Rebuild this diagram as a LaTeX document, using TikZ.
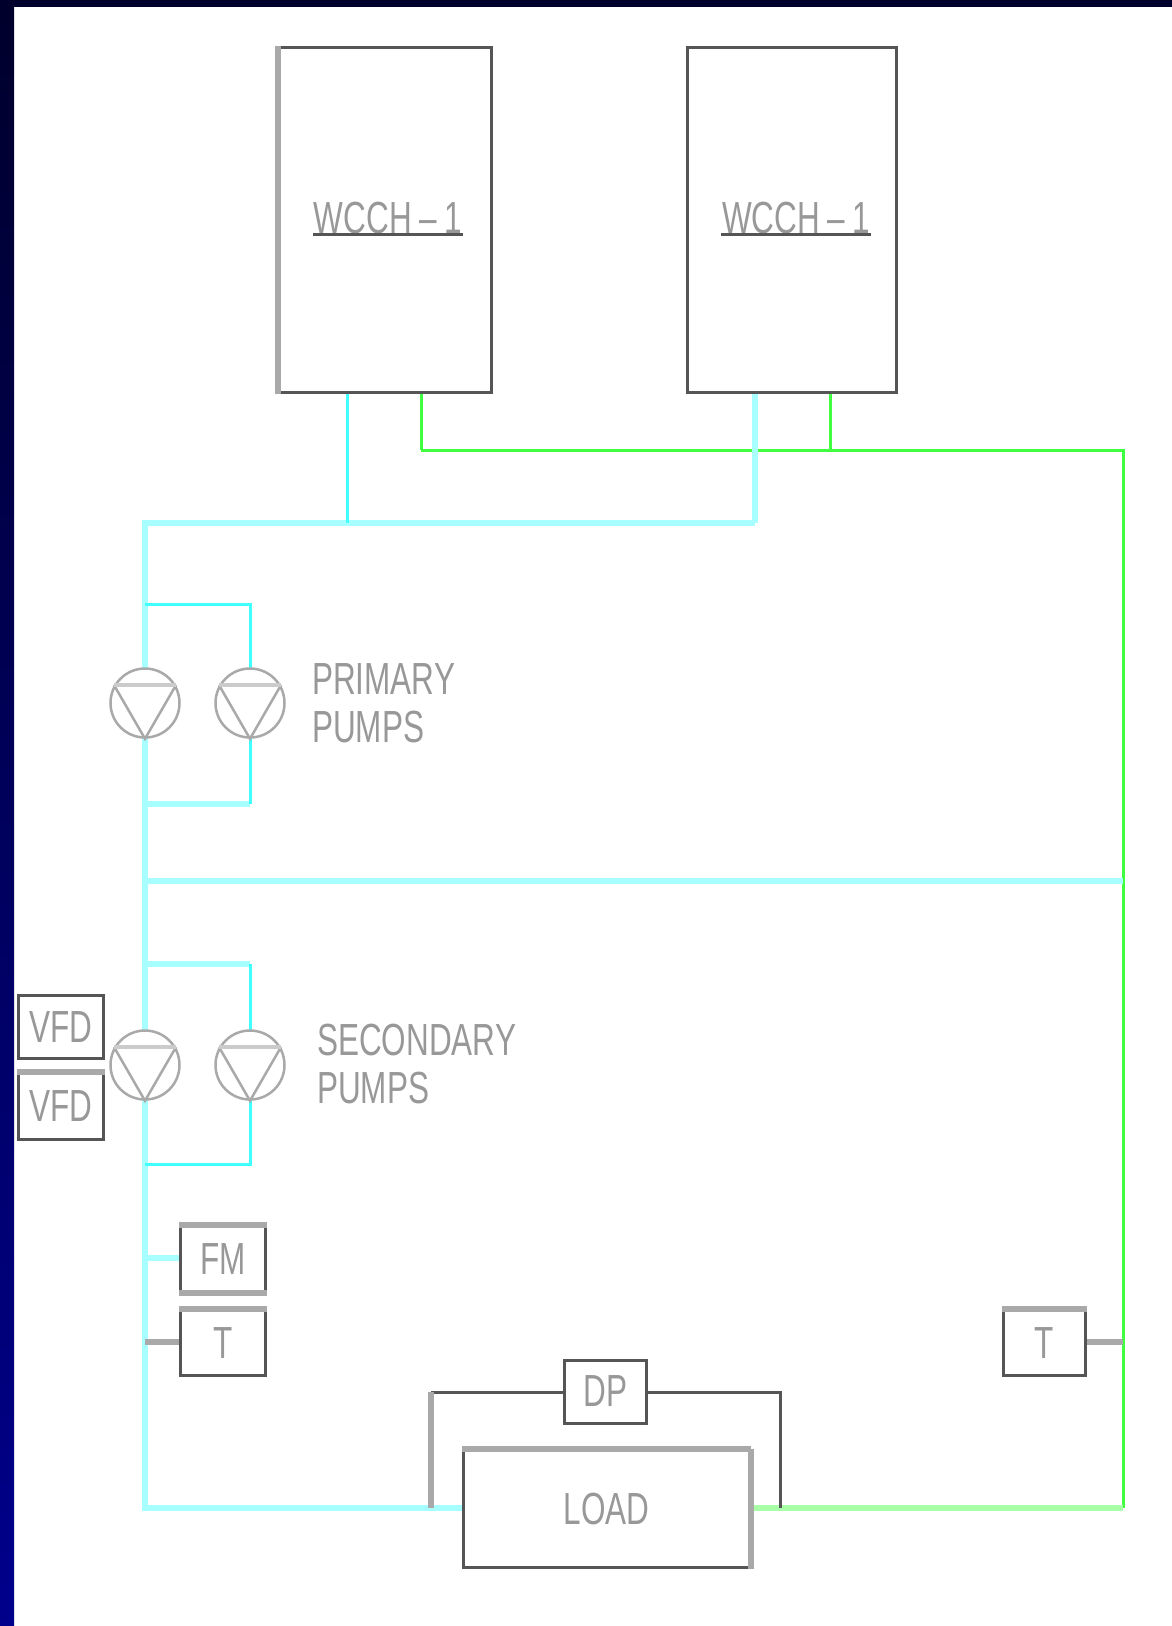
\documentclass[tikz,border=0pt]{standalone}
\usepackage{fontspec}
\newfontfamily\cadfont[FakeStretch=.7]{Liberation Sans}
\definecolor{navytop}{HTML}{00002C}
\definecolor{navybot}{HTML}{00008C}
\definecolor{inkdark}{HTML}{555555}
\definecolor{inkgrey}{HTML}{A9A9A9}
\definecolor{inktext}{HTML}{989898}
\definecolor{chwpale}{HTML}{A8FFFF}
\definecolor{chwfull}{HTML}{40FFFF}
\definecolor{cwpale}{HTML}{A8FFA8}
\definecolor{cwfull}{HTML}{40FF40}
\begin{document}
\begin{tikzpicture}[x=1pt,y=-1pt,
                    darkline/.style={line width=3pt,draw=inkdark},
                    greyline/.style={line width=6pt,draw=inkgrey},
                    thinwater/.style={line width=3pt,draw=chwfull},
                    mainwater/.style={line width=6pt,draw=chwpale},
                    thincond/.style={line width=3pt,draw=cwfull},
                    maincond/.style={line width=6pt,draw=cwpale},
                    box/.style={draw=inkdark,line width=3pt,fill=white,inner sep=0pt,anchor=north west},
                    pump/.style={circle,draw=inkgrey,line width=2.5pt,fill=white,minimum size=69pt,inner sep=0pt},
                    every node/.style={font=\cadfont\fontsize{45}{48}\selectfont,text=inktext}]
 \useasboundingbox (0,0) rectangle (1172,1626);
 \fill[white] (0,0) rectangle (1172,1626);
 \shade[top color=navytop,bottom color=navybot] (-2,-2) rectangle (14,1628);
 \fill[navytop] (-2,-2) rectangle (1174,7);
 % junctions
 \coordinate (hdrL) at (145,523); \coordinate (hdrM) at (347,523); \coordinate (hdrR) at (755,523);
 \coordinate (cwA) at (421,450); \coordinate (cwB) at (830,450); \coordinate (cwR) at (1123,450);
 \coordinate (brgL) at (145,881); \coordinate (brgR) at (1123,881);
 \coordinate (retL) at (145,1508); \coordinate (retR) at (1123,1508);
 \coordinate (p1top) at (145,604); \coordinate (p1bot) at (145,804);
 \coordinate (s1top) at (145,964); \coordinate (s1bot) at (145,1164);
 \coordinate (fmtap) at (145,1258); \coordinate (ttapL) at (145,1342); \coordinate (ttapR) at (1123,1342);
 \coordinate (dpL) at (431,1392); \coordinate (dpR) at (780,1392);
 \coordinate (dpLb) at (431,1508); \coordinate (dpRb) at (780,1508);
 % piping
 \draw[thincond] (cwA)--(cwR)--(retR);
 \draw[maincond] (750,1508)--(retR);
 \draw[mainwater] (hdrR)--(hdrL)--(retL)--(463,1508);
 \draw[mainwater] (brgL)--(brgR);
 \draw[thinwater] (p1top)-|(250,703);
 \draw[mainwater] (p1bot)--(250,804);
 \draw[thinwater] (250,804)--(250,703);
 \draw[mainwater] (s1top)--(250,964);
 \draw[thinwater] (250,964)--(250,1065);
 \draw[thinwater] (s1bot)-|(250,1065);
 % chillers
 \node[box,minimum width=212pt,minimum height=345pt] (chA) at (278,45.5) {};
 \node[box,minimum width=209pt,minimum height=345pt] (chB) at (685.5,45.5) {};
 \draw[greyline] (chA.north west)--(chA.south west);
 \draw[thinwater] (chA.south -| hdrM)--(hdrM);
 \draw[thincond] (chA.south -| cwA)--(cwA);
 \draw[mainwater] (chB.south -| hdrR)--(hdrR);
 \draw[thincond] (chB.south -| cwB)--(cwB);
 \node[minimum width=149pt,inner sep=0pt,anchor=south] (lblA) at (388,234) {WCCH\,–\,1};
 \node[minimum width=149pt,inner sep=0pt,anchor=south] (lblB) at (796,234) {WCCH\,–\,1};
 \draw[darkline] (lblA.south west)--(lblA.south east);
 \draw[darkline] (lblB.south west)--(lblB.south east);
 % pumps
 \foreach \name/\px/\py in {pa/145/703,pb/250/703,sa/145/1065,sb/250/1065}{
  \node[pump] (\name) at (\px,\py) {};
  \draw[inkgrey,line width=2.5pt] (\name.150)--(\name.270)--(\name.30);
  \draw[inkgrey!60,line width=4pt] (\name.150)--(\name.30);
 }
 \node[anchor=west,align=left,inner sep=0pt] (ptxt) at (312,703) {PRIMARY\\PUMPS};
 \node[anchor=west,align=left,inner sep=0pt] (stxt) at (317,1064) {SECONDARY\\PUMPS};
 % instruments
 \node[box,minimum width=85pt,minimum height=63pt] (vfdA) at (17,994) {VFD};
 \node[box,minimum width=85pt,minimum height=66pt] (vfdB) at (17,1072) {VFD};
 \draw[greyline] (vfdB.north west)--(vfdB.north east);
 \node[box,minimum width=85pt,minimum height=65pt] (fm) at (179,1225) {FM};
 \draw[greyline] (fm.north west)--(fm.north east);
 \draw[greyline] (fm.south west)--(fm.south east);
 \draw[mainwater] (fmtap)--(fm.west |- fmtap);
 \node[box,minimum width=85pt,minimum height=65pt] (tL) at (179,1309) {T};
 \draw[greyline] (tL.north west)--(tL.north east);
 \draw[greyline] (ttapL)--(tL.west |- ttapL);
 \node[box,minimum width=82pt,minimum height=65pt] (tR) at (1002,1309) {T};
 \draw[greyline] (tR.north west)--(tR.north east);
 \draw[greyline] (tR.east |- ttapR)--(ttapR);
 % load
 \node[box,minimum width=82pt,minimum height=63pt] (dp) at (563,1358.5) {DP};
 \draw[darkline] (dp.west |- dpL)--(dpL);
 \draw[greyline] (dpL)--(dpLb);
 \draw[darkline] (dp.east |- dpR)--(dpR)--(dpRb);
 \node[box,minimum width=286pt,minimum height=117pt] (load) at (462,1449) {LOAD};
 \draw[greyline] (load.north west)--(load.north east);
 \draw[greyline] (load.north east)--(load.south east);
\end{tikzpicture}
\end{document}
